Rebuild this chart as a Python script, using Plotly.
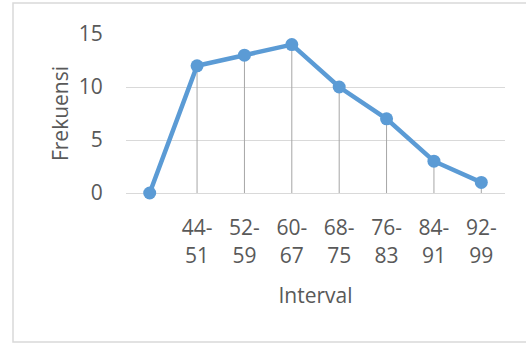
import plotly.graph_objects as go

categories = ["", "44-<br>51", "52-<br>59", "60-<br>67", "68-<br>75", "76-<br>83", "84-<br>91", "92-<br>99"]
values = [0, 12, 13, 14, 10, 7, 3, 1]
y_ticks = [0, 5, 10, 15]

W, H = 526, 344
L, R, T, B = 126, 21, 34, 151
pw, ph = W - L - R, H - T - B

font = "Open Sans"
grey = "#595959"
blue = "#5B9BD5"
fs = 21

fig = go.Figure()
fig.add_trace(go.Scatter(
    x=list(range(len(categories))), y=values,
    mode="lines+markers",
    line=dict(color=blue, width=4.5),
    marker=dict(color=blue, size=13),
    error_y=dict(type="data", symmetric=False, array=[0] * len(values),
                 arrayminus=values, width=0, color="#A6A6A6", thickness=1),
    cliponaxis=False,
    hoverinfo="skip",
))

fig.update_layout(
    width=W, height=H,
    margin=dict(l=L, r=R, t=T, b=B),
    paper_bgcolor="white", plot_bgcolor="white",
    showlegend=False,
    font=dict(family=font, color=grey, size=fs),
    xaxis=dict(
        range=[-0.5, len(categories) - 0.5],
        tickmode="array", tickvals=list(range(len(categories))), ticktext=categories,
        showgrid=False, zeroline=False, showline=False, automargin=False,
        ticks="outside", ticklen=16, tickcolor="rgba(0,0,0,0)",
        tickfont=dict(size=fs, color=grey, family=font),
        title=dict(text="Interval", font=dict(size=fs, color=grey, family=font), standoff=20),
    ),
    yaxis=dict(
        range=[0, 15],
        tickmode="array", tickvals=y_ticks,
        showgrid=True, gridcolor="#D9D9D9", gridwidth=1,
        zeroline=True, zerolinecolor="#D9D9D9", zerolinewidth=1,
        showline=False, automargin=False,
        ticks="outside", ticklen=18, tickcolor="rgba(0,0,0,0)",
        tickfont=dict(size=fs, color=grey, family=font),
        title=dict(text="Frekuensi", font=dict(size=fs, color=grey, family=font), standoff=4),
    ),
)

# outer chart border
fig.add_shape(type="rect", xref="paper", yref="paper",
              x0=(13 - L) / pw, x1=(540 - L) / pw,
              y0=(H - B - 342) / ph, y1=(H - B - 3) / ph,
              line=dict(color="#D9D9D9", width=1.5), fillcolor="rgba(0,0,0,0)", layer="below")

fig.write_html("out.html", config={"displayModeBar": False},
               post_script="document.body.style.margin='0';document.body.style.overflow='hidden';")
